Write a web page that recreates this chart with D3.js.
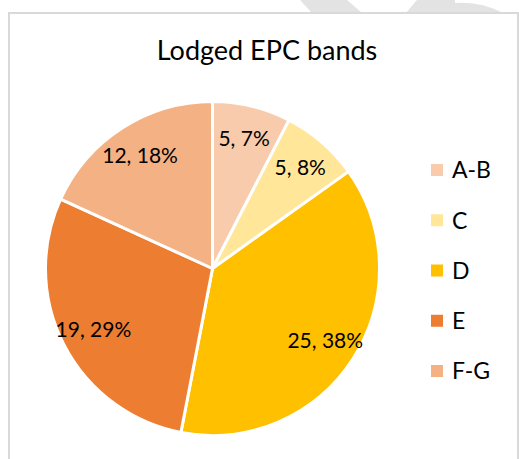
<!DOCTYPE html>
<html>
<head>
<meta charset="utf-8">
<script src="https://cdn.jsdelivr.net/npm/d3@7"></script>
<style>
  body { margin: 0; background: #fff; }
  svg { display: block; font-family: Lato, "Open Sans", sans-serif; }
</style>
</head>
<body>
<svg id="chart" width="519" height="459"></svg>
<script>
    var bands = ["A-B", "C", "D", "E", "F-G"];
    var counts = [5, 5, 25, 19, 12];
    var pctLabels = ["7%", "8%", "38%", "29%", "18%"];
    var colors = ["#F8CBAD", "#FFE699", "#FFC000", "#ED7D31", "#F4B183"];

    var svg = d3.select("#chart");

    // faint watermark bits at the very top
    svg.append("path").attr("d", "M300,0 L347,0 L362,13 L312,13 Z").attr("fill", "#e3e3e3");
    svg.append("path").attr("d", "M417,0 L455,0 L455,13 L406,13 Z").attr("fill", "#e3e3e3");
    svg.append("path").attr("d", "M455,13 L455,3 Q480,1 503,13 Z").attr("fill", "#e3e3e3");

    // chart area border
    svg.append("rect")
        .attr("x", 9).attr("y", 13)
        .attr("width", 509).attr("height", 470)
        .attr("fill", "#fff")
        .attr("stroke", "#d9d9d9")
        .attr("stroke-width", 2);

    svg.append("text")
        .attr("x", 267).attr("y", 60)
        .attr("text-anchor", "middle")
        .attr("font-size", 27)
        .attr("fill", "#000")
        .text("Lodged EPC bands");

    var cx = 212.5, cy = 268.5, r = 167;

    var pie = d3.pie().sort(null).value(d => d);
    var arcs = pie(counts);

    var arc = d3.arc().innerRadius(0).outerRadius(r);
    var labelArc = d3.arc().innerRadius(134).outerRadius(134);

    var g = svg.append("g").attr("transform", "translate(" + cx + "," + cy + ")");

    g.selectAll("path.slice")
        .data(arcs)
        .enter()
        .append("path")
        .attr("class", "slice")
        .attr("d", arc)
        .attr("fill", (d, i) => colors[i])
        .attr("stroke", "#fff")
        .attr("stroke-width", 3)
        .attr("stroke-linejoin", "round");

    g.selectAll("text.lbl")
        .data(arcs)
        .enter()
        .append("text")
        .attr("class", "lbl")
        .attr("transform", d => "translate(" + labelArc.centroid(d) + ")")
        .attr("text-anchor", "middle")
        .attr("dy", "0.35em")
        .attr("font-size", 21)
        .attr("fill", "#000")
        .text((d, i) => counts[i] + ", " + pctLabels[i]);

    // legend
    var ly = d3.scalePoint().domain(bands).range([170, 371]);

    var leg = svg.selectAll("g.leg")
        .data(bands)
        .enter()
        .append("g")
        .attr("class", "leg")
        .attr("transform", d => "translate(431," + ly(d) + ")");

    leg.append("rect")
        .attr("x", 0).attr("y", -6)
        .attr("width", 12).attr("height", 12)
        .attr("fill", (d, i) => colors[i]);

    leg.append("text")
        .attr("x", 21).attr("y", 0)
        .attr("dy", "0.36em")
        .attr("font-size", 23)
        .attr("fill", "#000")
        .text(d => d);
</script>
</body>
</html>
